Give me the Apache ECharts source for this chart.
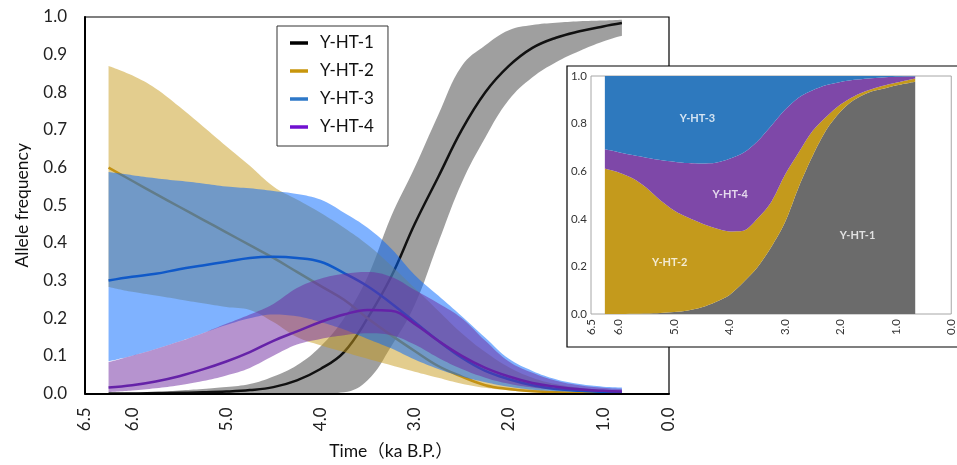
<!DOCTYPE html>
<html>
<head>
<meta charset="utf-8">
<script src="https://cdn.jsdelivr.net/npm/echarts@6/dist/echarts.min.js"></script>
<style>
html,body{margin:0;padding:0;background:#fff;}
#c{width:957px;height:465px;}
</style>
</head>
<body>
<div id="c"></div>
<script>
// ---------- main chart data (time in ka B.P.) ----------
const times = [6.25,6.0,5.75,5.5,5.25,5.0,4.75,4.5,4.25,4.0,3.75,3.5,3.25,3.0,2.75,2.5,2.25,2.0,1.75,1.5,1.25,1.0,0.8];

const ht1Mean  = [0.000,0.000,0.001,0.002,0.003,0.005,0.009,0.017,0.035,0.065,0.110,0.200,0.310,0.450,0.575,0.700,0.800,0.870,0.918,0.945,0.962,0.975,0.984];
const ht1Upper = [0.001,0.002,0.004,0.008,0.012,0.017,0.025,0.045,0.075,0.125,0.200,0.310,0.470,0.600,0.740,0.870,0.925,0.965,0.979,0.985,0.989,0.991,0.993];
const ht1Lower = [0.000,0.000,0.000,0.000,0.000,0.000,0.000,0.000,0.000,0.000,0.003,0.035,0.125,0.235,0.400,0.560,0.680,0.780,0.840,0.880,0.910,0.935,0.950];

const ht2Mean  = [0.600,0.565,0.530,0.496,0.462,0.428,0.394,0.360,0.323,0.286,0.249,0.200,0.155,0.113,0.073,0.045,0.022,0.012,0.006,0.003,0.002,0.001,0.001];
const ht2Upper = [0.870,0.845,0.810,0.762,0.710,0.657,0.605,0.550,0.515,0.480,0.440,0.395,0.340,0.280,0.220,0.160,0.110,0.070,0.042,0.025,0.015,0.010,0.008];
const ht2Lower = [0.283,0.270,0.260,0.250,0.240,0.230,0.222,0.190,0.150,0.128,0.110,0.092,0.075,0.058,0.042,0.026,0.015,0.008,0.004,0.002,0.001,0.000,0.000];

const ht3Mean  = [0.300,0.310,0.318,0.330,0.340,0.350,0.360,0.363,0.360,0.350,0.320,0.285,0.240,0.190,0.140,0.095,0.060,0.038,0.022,0.012,0.007,0.004,0.003];
const ht3Upper = [0.588,0.580,0.572,0.565,0.558,0.550,0.545,0.538,0.530,0.515,0.480,0.440,0.385,0.315,0.260,0.205,0.148,0.092,0.060,0.038,0.025,0.018,0.016];
const ht3Lower = [0.085,0.100,0.118,0.138,0.160,0.182,0.200,0.210,0.205,0.190,0.170,0.145,0.120,0.090,0.065,0.045,0.030,0.018,0.010,0.006,0.004,0.003,0.002];

const ht4Mean  = [0.016,0.022,0.032,0.046,0.064,0.085,0.110,0.140,0.165,0.190,0.210,0.222,0.220,0.185,0.140,0.100,0.068,0.045,0.028,0.018,0.011,0.007,0.005];
const ht4Upper = [0.083,0.100,0.118,0.138,0.160,0.185,0.210,0.238,0.280,0.305,0.318,0.323,0.310,0.275,0.240,0.200,0.140,0.085,0.055,0.034,0.022,0.015,0.012];
const ht4Lower = [0.004,0.008,0.014,0.022,0.033,0.048,0.068,0.100,0.130,0.145,0.155,0.160,0.155,0.130,0.095,0.065,0.042,0.026,0.016,0.010,0.006,0.004,0.003];

const seriesNames = ['Y-HT-1','Y-HT-2','Y-HT-3','Y-HT-4'];

// main x-axis tick positions and their printed labels
const xTickValues = [6.5,6.0,5.0,4.0,3.0,2.0,1.0,0.3];
const xTickLabels = ['6.5','6.0','5.0','4.0','3.0','2.0','1.0','0.0'];

// ---------- inset (stacked mean frequencies) ----------
const insetTimes = [6.25,6.0,5.75,5.5,5.25,5.0,4.75,4.5,4.25,4.0,3.75,3.5,3.25,3.0,2.75,2.5,2.25,2.0,1.75,1.5,1.25,1.0,0.65];
const inHT1 = [0.000,0.000,0.001,0.002,0.004,0.008,0.015,0.028,0.050,0.080,0.133,0.195,0.280,0.385,0.535,0.665,0.775,0.850,0.900,0.930,0.945,0.960,0.976];
const inHT2 = [0.610,0.595,0.569,0.528,0.474,0.427,0.390,0.352,0.310,0.267,0.217,0.205,0.190,0.200,0.145,0.105,0.055,0.030,0.015,0.010,0.013,0.012,0.014];
const inHT4 = [0.082,0.085,0.098,0.127,0.169,0.205,0.229,0.252,0.275,0.305,0.327,0.325,0.320,0.273,0.230,0.170,0.132,0.095,0.069,0.050,0.036,0.025,0.008];
const inHT3 = [0.308,0.320,0.332,0.343,0.353,0.360,0.366,0.368,0.365,0.348,0.323,0.275,0.210,0.142,0.090,0.060,0.038,0.025,0.016,0.010,0.006,0.003,0.002];

const insetXTicks = [6.5,6.0,5.0,4.0,3.0,2.0,1.0,0.0];
const insetLabelNames = ['Y-HT-3','Y-HT-4','Y-HT-2','Y-HT-1'];
const insetLabelT = [4.58,3.99,5.08,1.69];
const insetLabelV = [0.82,0.504,0.218,0.328];

// ---------- styling ----------
const FONT = 'Lato, "Noto Sans CJK SC", sans-serif';
const bandColors = ['rgba(64,64,64,0.5)','rgba(200,155,30,0.5)','rgba(0,102,255,0.5)','rgba(110,40,160,0.5)'];
const lineColors = ['#111111','#C39214','#1059C8','#6522A8'];
const legendColors = ['#000000','#C8960C','#2E78C8','#7010D0'];
const insetColors = ['#6B6B6B','#C49A1C','#2E79BE','#7E48A8'];

const means = [ht1Mean, ht2Mean, ht3Mean, ht4Mean];
const uppers = [ht1Upper, ht2Upper, ht3Upper, ht4Upper];
const lowers = [ht1Lower, ht2Lower, ht3Lower, ht4Lower];

// rows are [value, time] so stacking happens on the value dimension
const ENC = { x: 1, y: 0 };
const series = [];
for (let k = 0; k < 4; k++) {
  const st = 'band' + k;
  series.push({
    type: 'line', name: 'lo' + k, stack: st, silent: true, encode: ENC,
    data: times.map((t, i) => [lowers[k][i], t]),
    symbol: 'none', smooth: 0.4, lineStyle: { opacity: 0 }, z: 2 + 2 * k
  });
  series.push({
    type: 'line', name: 'band' + k, stack: st, silent: true, encode: ENC,
    data: times.map((t, i) => [uppers[k][i] - lowers[k][i], t]),
    symbol: 'none', smooth: 0.4, lineStyle: { opacity: 0 },
    areaStyle: { color: bandColors[k], opacity: 1 }, z: 2 + 2 * k
  });
  series.push({
    type: 'line', name: seriesNames[k], encode: ENC,
    data: times.map((t, i) => [means[k][i], t]),
    symbol: 'none', smooth: 0.4, color: legendColors[k],
    lineStyle: { color: lineColors[k], width: 2.5 }, z: 3 + 2 * k
  });
}

// inset stacked areas: order bottom->top HT1, HT2, HT4, HT3
const insetVals = [inHT1, inHT2, inHT4, inHT3];
const insetCol = [insetColors[0], insetColors[1], insetColors[3], insetColors[2]];
const insetNm = ['inset Y-HT-1','inset Y-HT-2','inset Y-HT-4','inset Y-HT-3'];
for (let k = 0; k < 4; k++) {
  series.push({
    type: 'line', name: insetNm[k], stack: 'inset', xAxisIndex: 1, yAxisIndex: 1, encode: ENC,
    data: insetTimes.map((t, i) => [insetVals[k][i], t]),
    symbol: 'none', smooth: 0.3, lineStyle: { width: 0 },
    areaStyle: { color: insetCol[k], opacity: 1 }, z: 13, silent: true
  });
}
series.push({
  type: 'scatter', name: 'inset labels', xAxisIndex: 1, yAxisIndex: 1,
  data: insetLabelNames.map((n, i) => [insetLabelT[i], insetLabelV[i], n]),
  symbolSize: 0, z: 14, silent: true,
  label: { show: true, position: 'inside', formatter: p => p.data[2],
    color: '#fff', fontWeight: 'bold', fontSize: 11, fontFamily: FONT }
});

const option = {
  backgroundColor: '#fff',
  animation: false,
  textStyle: { fontFamily: FONT },
  grid: [
    { left: 85, top: 17, right: 288, bottom: 67, show: true, borderColor: '#000', borderWidth: 1.2, backgroundColor: '#fff' },
    { left: 591, top: 76, right: 1, bottom: 151, show: true, borderColor: '#A6A6A6', borderWidth: 1, backgroundColor: '#fff', z: 11 }
  ],
  legend: {
    data: seriesNames.map((n, i) => ({ name: n, itemStyle: { color: legendColors[i] } })),
    orient: 'vertical', left: 277, top: 26, z: 20,
    icon: 'rect', itemWidth: 18, itemHeight: 3.5, itemGap: 10,
    padding: [8, 14, 10, 13],
    borderColor: '#333', borderWidth: 1, backgroundColor: '#fff',
    textStyle: { fontSize: 17, color: '#111', fontFamily: FONT, lineHeight: 18, padding: [0, 0, 0, 7] },
    selectedMode: false
  },
  xAxis: [
    {
      type: 'value', gridIndex: 0, inverse: true, min: 0.3, max: 6.5, z: 9,
      axisLine: { show: true, onZero: false, lineStyle: { color: '#000', width: 2 } },
      axisTick: { show: false }, splitLine: { show: false },
      axisLabel: { customValues: xTickValues, rotate: 90, margin: 14, fontSize: 17, color: '#222', fontFamily: FONT,
        formatter: v => { const i = xTickValues.findIndex(x => Math.abs(x - v) < 1e-6); return i >= 0 ? xTickLabels[i] : ''; } },
      name: 'Time（ka B.P.）', nameLocation: 'middle', nameGap: 49,
      nameTextStyle: { fontSize: 17.5, color: '#111', fontFamily: FONT, padding: [0, 0, 0, 28] }
    },
    {
      type: 'value', gridIndex: 1, inverse: true, min: 0, max: 6.5, z: 12,
      axisLine: { show: false }, axisTick: { show: false }, splitLine: { show: false },
      axisLabel: { customValues: insetXTicks, rotate: 90, margin: 5, fontSize: 11.5, color: '#333', fontFamily: FONT,
        formatter: v => v.toFixed(1) }
    }
  ],
  yAxis: [
    {
      type: 'value', gridIndex: 0, min: 0, max: 1, interval: 0.1, z: 9,
      axisLine: { show: true, lineStyle: { color: '#000', width: 2 } },
      axisTick: { show: false }, splitLine: { show: false },
      axisLabel: { margin: 18, fontSize: 17, color: '#222', fontFamily: FONT, formatter: v => v.toFixed(1) },
      name: 'Allele frequency', nameLocation: 'middle', nameRotate: 90, nameGap: 54,
      nameTextStyle: { fontSize: 17.5, color: '#111', fontFamily: FONT }
    },
    {
      type: 'value', gridIndex: 1, min: 0, max: 1, interval: 0.2, z: 12,
      axisLine: { show: false }, axisTick: { show: false }, splitLine: { show: false },
      axisLabel: { margin: 4, fontSize: 11.5, color: '#333', fontFamily: FONT, formatter: v => v.toFixed(1) }
    }
  ],
  graphic: [
    { type: 'rect', z: 10, shape: { x: 567, y: 66, width: 400, height: 281 },
      style: { fill: '#fff', stroke: '#000', lineWidth: 1.2 } }
  ],
  series: series
};

const chart = echarts.init(document.getElementById('c'), null, { renderer: 'canvas' });
chart.setOption(option);
</script>
</body>
</html>
